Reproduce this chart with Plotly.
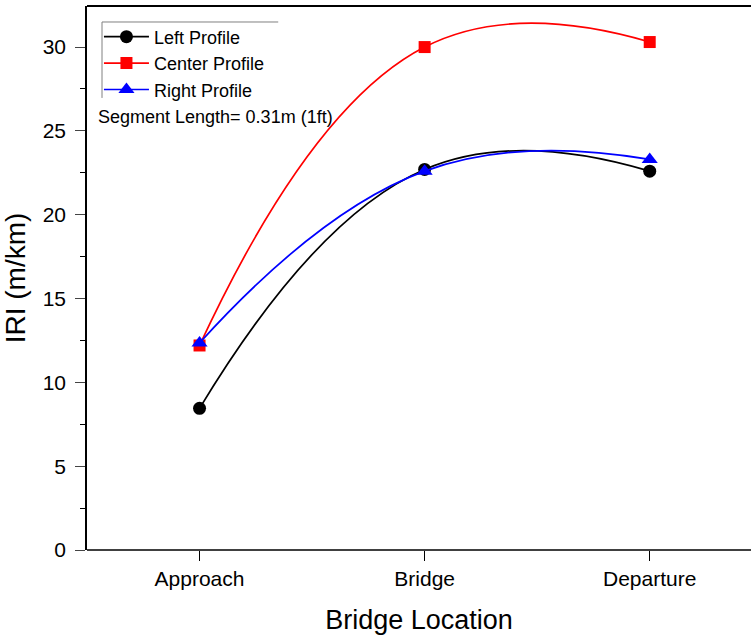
import plotly.graph_objects as go

locations = ["Approach", "Bridge", "Departure"]
left_profile = [8.45, 22.7, 22.6]
center_profile = [12.2, 30.0, 30.3]
right_profile = [12.35, 22.6, 23.3]

series = [
    ("Left Profile", left_profile, "black", "circle", 13),
    ("Center Profile", center_profile, "red", "square", 12),
    ("Right Profile", right_profile, "blue", "triangle-up", 14),
]

fig = go.Figure()
for name, vals, color, sym, size in series:
    fig.add_trace(go.Scatter(
        x=list(range(len(locations))), y=vals, name=name,
        mode="lines+markers",
        line=dict(color=color, width=1.7, shape="spline", smoothing=1.3),
        marker=dict(color=color, symbol=sym, size=size),
    ))

font = "Liberation Sans, Arial, sans-serif"
fig.update_layout(
    width=751, height=637,
    margin=dict(l=87, r=0, t=6, b=87),
    plot_bgcolor="white", paper_bgcolor="white",
    font=dict(family=font, color="black"),
    showlegend=True,
    legend=dict(x=0.018, y=0.977, xanchor="left", yanchor="top",
                font=dict(size=18, family=font), bgcolor="rgba(0,0,0,0)",
                itemwidth=45, tracegroupgap=0),
    xaxis=dict(range=[-0.5, 2.45], tickvals=[0, 1, 2], ticktext=locations,
               showgrid=False, zeroline=False, showline=False,
               ticks="outside", ticklen=10, tickwidth=1.2, tickcolor="black",
               tickfont=dict(size=21),
               title=dict(text="Bridge Location", font=dict(size=27), standoff=20)),
    yaxis=dict(range=[0, 32.45], tickvals=[0, 5, 10, 15, 20, 25, 30],
               showgrid=False, zeroline=False, showline=True, linecolor="black",
               linewidth=1.5, ticks="outside", ticklen=10, tickwidth=1.2,
               ticklabelstandoff=5, tickfont=dict(size=21),
               minor=dict(tickvals=[2.5, 7.5, 12.5, 17.5, 22.5, 27.5], ticks="outside",
                          ticklen=5, tickwidth=1.2, tickcolor="black"),
               title=dict(text="IRI (m/km)", font=dict(size=28), standoff=12)),
    annotations=[dict(text="Segment Length= 0.31m (1ft)", xref="paper", yref="paper",
                      x=0.014, y=0.796, xanchor="left", yanchor="middle",
                      showarrow=False, font=dict(size=18, family=font))],
    shapes=[
        # keep the right side of the frame open
        dict(type="line", xref="paper", yref="paper", x0=1, x1=1,
             y0=0.004, y1=0.996, line=dict(color="white", width=4), layer="above"),
        # frame top and bottom edges
        dict(type="line", xref="paper", yref="paper", x0=0, x1=1,
             y0=1, y1=1, line=dict(color="black", width=2)),
        dict(type="line", xref="paper", yref="paper", x0=0, x1=1,
             y0=0, y1=0, line=dict(color="black", width=1.5)),
        # legend box top and left edges
        dict(type="line", xref="paper", yref="paper", x0=0.0226, x1=0.288,
             y0=0.9706, y1=0.9706, line=dict(color="gray", width=1)),
        dict(type="line", xref="paper", yref="paper", x0=0.0226, x1=0.0226,
             y0=0.9706, y1=0.831, line=dict(color="gray", width=1)),
    ],
)

fig.write_html("out.html")
